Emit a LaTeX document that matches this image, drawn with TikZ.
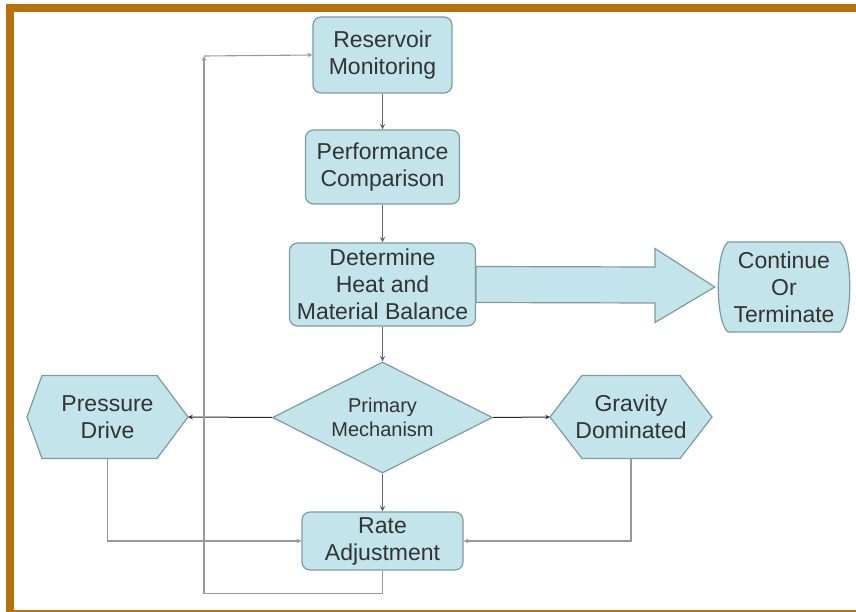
\documentclass[tikz,border=0pt]{standalone}
\usepackage{fontspec}
\setmainfont{Liberation Sans}
\usetikzlibrary{shapes.geometric}
\definecolor{frame}{RGB}{181,112,16}
\definecolor{boxfill}{RGB}{194,228,234}
\definecolor{boxline}{RGB}{125,155,163}
\definecolor{ink}{RGB}{51,51,51}
\begin{document}
\begin{tikzpicture}[x=1pt, y=-1pt, >=stealth,
  box/.style={draw=boxline, fill=boxfill, line width=1.2pt, rounded corners=8pt,
    align=center, text=ink, inner sep=1pt, font=\fontsize{23}{27}\selectfont},
  hexa/.style={draw=boxline, fill=boxfill, line width=1.2pt},
  hextext/.style={align=center, text=ink, inner sep=1pt, font=\fontsize{23}{27}\selectfont},
  link/.style={->, draw=black!60, line width=1.4pt},
  side/.style={->, draw=black!85, line width=1pt},
  back/.style={->, draw=black!40, line width=1.1pt}]
  \useasboundingbox (0,0) rectangle (856,612);
  \fill[frame] (6,4) rectangle (856,12);
  \fill[frame] (6,4) rectangle (14,612);
  \fill[frame] (6,609.5) rectangle (856,612);

  \node[box, minimum width=139, minimum height=76] (mon) at (382.5,55) {Reservoir\\Monitoring};
  \node[box, minimum width=154, minimum height=74] (perf) at (382.5,167) {Performance\\Comparison};
  \node[box, minimum width=186, minimum height=83] (heat) at (382.5,284.5) {Determine\\Heat and\\Material Balance};
  \node[box, diamond, aspect=2, rounded corners=0pt, inner sep=0pt, minimum width=220, minimum height=111,
    font=\fontsize{20}{24}\selectfont] (mech) at (382.5,417.5) {Primary\\Mechanism};
  \node[box, minimum width=161, minimum height=58] (rate) at (382.5,541) {Rate\\Adjustment};

  \draw[hexa] (728,242) -- (840,242) .. controls (853,252) and (853,322) .. (840,332)
    -- (728,332) .. controls (715,322) and (715,252) .. (728,242) -- cycle;
  \node[hextext, minimum width=132, minimum height=90] (cont) at (784,287) {Continue\\Or\\Terminate};

  \draw[hexa] (27,417) -- (42,375.5) -- (157,375.5) -- (188,417) -- (157,458.5) -- (42,458.5) -- cycle;
  \node[hextext, minimum width=161, minimum height=83] (press) at (107.5,417) {Pressure\\Drive};
  \draw[hexa] (550,417) -- (582,375.5) -- (680,375.5) -- (712,417) -- (680,458.5) -- (582,458.5) -- cycle;
  \node[hextext, minimum width=162, minimum height=83] (grav) at (631,417) {Gravity\\Dominated};

  \draw[hexa] ([yshift=18]heat.east) -- (655,267) -- (655,248.5) -- ([xshift=-3]cont.west)
    -- (655,322.5) -- (655,303) -- ([yshift=-18]heat.east) -- cycle;

  \draw[link] (mon.south) -- (perf.north);
  \draw[link] (perf.south) -- (heat.north);
  \draw[link] (heat.south) -- (mech.north);
  \draw[link] (mech.south) -- (rate.north);
  \draw[side] (mech.west) -- (press.east);
  \draw[side] (mech.east) -- (grav.west);
  \draw[back] (press.south) |- (rate.west);
  \draw[back] (grav.south) |- (rate.east);
  \coordinate (turn) at (204,56);
  \draw[back] (rate.south) -- ++(0,23) -| (turn);
  \draw[back] (turn) -- (mon.west);
\end{tikzpicture}
\end{document}
